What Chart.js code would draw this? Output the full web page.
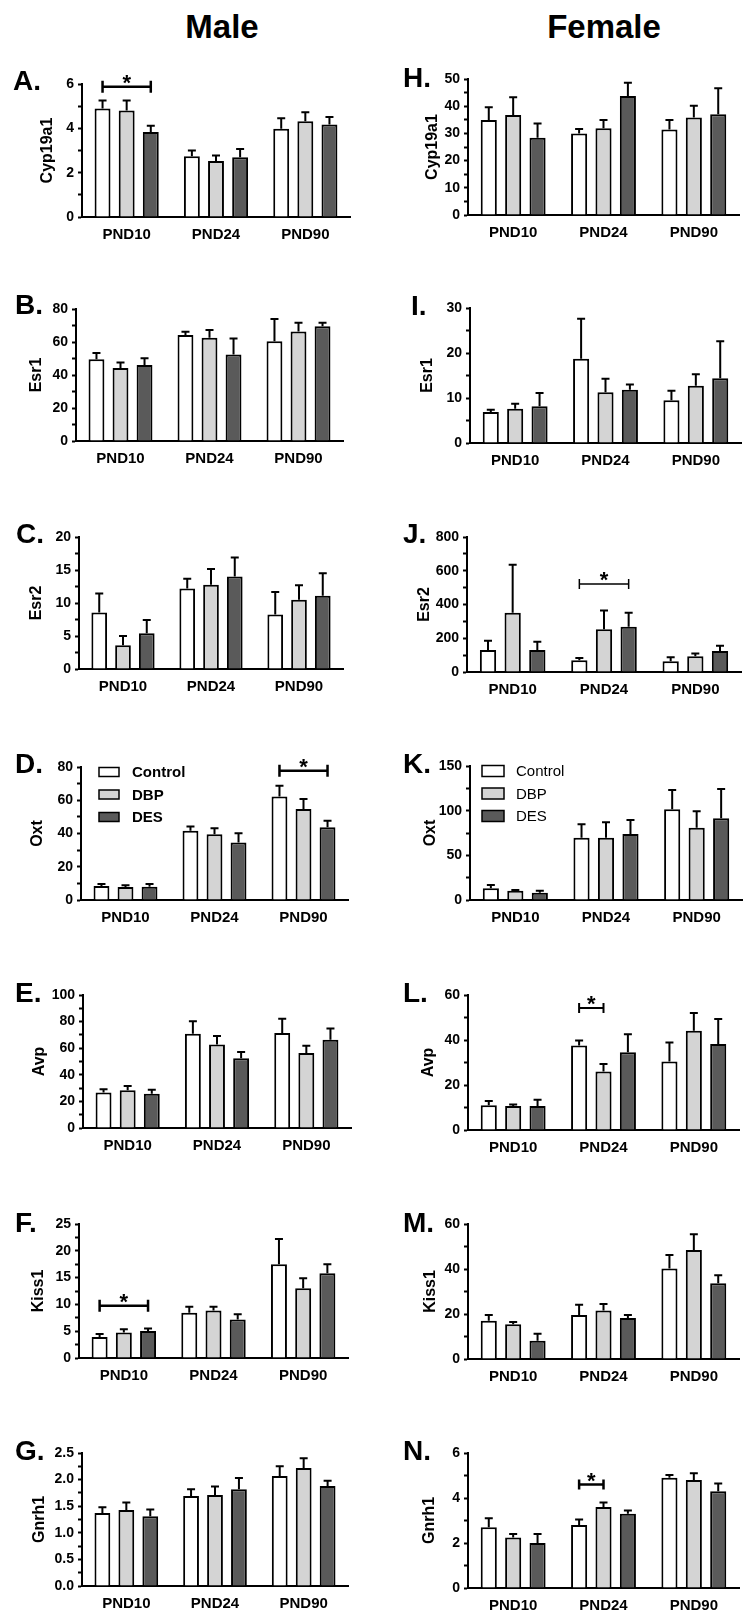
<!DOCTYPE html>
<html lang="en">
<head>
<meta charset="UTF-8">
<title>Hypothalamic gene expression, male and female</title>
<script src="https://cdn.jsdelivr.net/npm/chart.js"></script>
<style>
  body { margin: 0; background: #fff; }
  #page { position: relative; width: 753px; height: 1619px; overflow: hidden; font-family: 'Liberation Sans', Arial, sans-serif; }
  .sex { position: absolute; top: 10px; width: 200px; text-align: center; font-weight: bold; font-size: 33px; line-height: 1; }
  .panel { position: absolute; }
</style>
</head>
<body>
<div id="page">
  <div class="sex" style="left:122px">Male</div>
  <div class="sex" style="left:504px">Female</div>
</div>
<script>
const ages = ['PND10', 'PND24', 'PND90'];
const groups = ['Control', 'DBP', 'DES'];
const groupColors = ['#ffffff', '#d4d4d4', '#5a5a5a'];

// rows: Control, DBP, DES -- columns: PND10, PND24, PND90
const cyp19a1Male = [[4.90, 2.74, 3.98], [4.81, 2.53, 4.32], [3.83, 2.69, 4.17]];
const cyp19a1MaleSem = [[0.36, 0.26, 0.47], [0.45, 0.24, 0.40], [0.29, 0.38, 0.34]];
const esr1Male = [[49.6, 64.2, 60.5], [44.3, 62.6, 66.4], [46.0, 52.4, 69.6]];
const esr1MaleSem = [[3.8, 2.0, 13.4], [3.3, 4.6, 5.3], [4.2, 9.7, 2.1]];
const esr2Male = [[8.56, 12.2, 8.25], [3.6, 12.76, 10.5], [5.4, 14.0, 11.1]];
const esr2MaleSem = [[2.88, 1.47, 3.4], [1.4, 2.38, 2.2], [2.04, 2.9, 3.4]];
const oxtMale = [[8.4, 41.6, 62.3], [7.8, 39.6, 54.7], [8.0, 34.6, 43.8]];
const oxtMaleSem = [[1.2, 2.6, 6.4], [1.0, 3.6, 6.0], [1.6, 5.6, 3.8]];
const avpMale = [[26.6, 70.9, 71.4], [28.3, 62.7, 56.4], [25.8, 52.4, 66.4]];
const avpMaleSem = [[2.5, 9.3, 10.8], [3.3, 6.5, 5.5], [3.0, 4.7, 8.5]];
const kiss1Male = [[3.93, 8.42, 17.5], [4.74, 8.85, 13.0], [5.05, 7.17, 15.8]];
const kiss1MaleSem = [[0.56, 1.12, 4.7], [0.62, 0.69, 1.9], [0.44, 1.0, 1.7]];
const gnrh1Male = [[1.37, 1.69, 2.07], [1.43, 1.71, 2.22], [1.31, 1.82, 1.88]];
const gnrh1MaleSem = [[0.11, 0.13, 0.18], [0.14, 0.16, 0.18], [0.13, 0.21, 0.10]];

const cyp19a1Female = [[34.9, 30.0, 31.4], [36.8, 31.9, 35.8], [28.4, 43.75, 37.0]];
const cyp19a1FemaleSem = [[4.7, 1.6, 3.5], [6.5, 3.0, 4.4], [5.2, 4.9, 9.6]];
const esr1Female = [[6.9, 18.7, 9.5], [7.6, 11.3, 12.7], [8.15, 11.85, 14.4]];
const esr1FemaleSem = [[0.5, 8.9, 2.1], [1.1, 3.0, 2.6], [2.95, 1.15, 8.2]];
const esr2Female = [[131, 69, 63], [351, 254, 93], [131, 268, 125]];
const esr2FemaleSem = [[54, 14, 24], [284, 111, 16], [48, 83, 30]];
const oxtFemale = [[13.1, 69.8, 101.5], [10.4, 69.8, 81.0], [8.2, 73.9, 91.4]];
const oxtFemaleSem = [[3.7, 14.9, 21.6], [0.8, 17.1, 18.3], [2.2, 15.7, 32.9]];
const avpFemale = [[11.0, 37.6, 30.5], [10.7, 26.0, 44.1], [10.7, 34.6, 38.2]];
const avpFemaleSem = [[1.9, 2.2, 8.4], [0.6, 3.3, 7.9], [2.8, 8.0, 11.1]];
const kiss1Female = [[17.0, 19.6, 40.2], [15.4, 21.6, 48.5], [8.1, 18.2, 33.7]];
const kiss1FemaleSem = [[2.6, 4.5, 6.0], [1.0, 2.9, 7.0], [3.1, 1.4, 3.5]];
const gnrh1Female = [[2.7, 2.8, 4.9], [2.25, 3.6, 4.8], [2.0, 3.3, 4.3]];
const gnrh1FemaleSem = [[0.4, 0.25, 0.12], [0.15, 0.2, 0.3], [0.4, 0.15, 0.35]];

// layout of every panel (page pixels)
const panels = [
  { letter: 'A.', lx: 13, ldy: 6, col: 0, top: 84, zero: 217, axisX: 82, axisEnd: 350, titleX: 48, title: 'Cyp19a1', max: 6, major: 2, means: cyp19a1Male, sems: cyp19a1MaleSem,
    bracket: { age: 0, from: 0, to: 2, value: 5.88, lw: 2.5, cap: 6 } },
  { letter: 'B.', lx: 15, ldy: 5, col: 0, top: 309, zero: 441, axisX: 76, axisEnd: 343, titleX: 37, title: 'Esr1', max: 80, major: 20, means: esr1Male, sems: esr1MaleSem },
  { letter: 'C.', lx: 16, ldy: 6, col: 0, top: 537, zero: 669, axisX: 79, axisEnd: 343, titleX: 37, title: 'Esr2', max: 20, major: 5, means: esr2Male, sems: esr2MaleSem },
  { letter: 'D.', lx: 15, ldy: 6, col: 0, top: 767, zero: 900, axisX: 81, axisEnd: 348, titleX: 38, title: 'Oxt', max: 80, major: 20, means: oxtMale, sems: oxtMaleSem,
    bracket: { age: 2, from: 0, to: 2, value: 77.8, lw: 2.5, cap: 6 },
    legend: { dx: 18, dy: 5, w: 20, h: 9, textDx: 33, bold: true } },
  { letter: 'E.', lx: 15, ldy: 7, col: 0, top: 995, zero: 1128, axisX: 83, axisEnd: 351, titleX: 40, title: 'Avp', max: 100, major: 20, means: avpMale, sems: avpMaleSem },
  { letter: 'F.', lx: 15, ldy: 8, col: 0, top: 1224, zero: 1358, axisX: 79, axisEnd: 348, titleX: 39, title: 'Kiss1', max: 25, major: 5, means: kiss1Male, sems: kiss1MaleSem,
    bracket: { age: 0, from: 0, to: 2, value: 9.76, lw: 2.5, cap: 6 } },
  { letter: 'G.', lx: 15, ldy: 7, col: 0, top: 1453, zero: 1586, axisX: 82, axisEnd: 348, titleX: 40, title: 'Gnrh1', max: 2.5, major: 0.5, digits: 1, means: gnrh1Male, sems: gnrh1MaleSem },

  { letter: 'H.', lx: 403, ldy: 8, col: 1, top: 79, zero: 215, axisX: 468, axisEnd: 739, titleX: 433, title: 'Cyp19a1', max: 50, major: 10, means: cyp19a1Female, sems: cyp19a1FemaleSem },
  { letter: 'I.', lx: 411, ldy: 7, col: 1, top: 308, zero: 443, axisX: 470, axisEnd: 741, titleX: 428, title: 'Esr1', max: 30, major: 10, means: esr1Female, sems: esr1FemaleSem },
  { letter: 'J.', lx: 403, ldy: 6, col: 1, top: 537, zero: 672, axisX: 467, axisEnd: 741, titleX: 425, title: 'Esr2', max: 800, major: 200, means: esr2Female, sems: esr2FemaleSem,
    bracket: { age: 1, from: 0, to: 2, value: 521, lw: 1.5, cap: 5 } },
  { letter: 'K.', lx: 403, ldy: 7, col: 1, top: 766, zero: 900, axisX: 470, axisEnd: 742, titleX: 431, title: 'Oxt', max: 150, major: 50, means: oxtFemale, sems: oxtFemaleSem,
    legend: { dx: 12, dy: 5, w: 22, h: 11, textDx: 34, bold: false } },
  { letter: 'L.', lx: 403, ldy: 7, col: 1, top: 995, zero: 1130, axisX: 468, axisEnd: 739, titleX: 429, title: 'Avp', max: 60, major: 20, means: avpFemale, sems: avpFemaleSem,
    bracket: { age: 1, from: 0, to: 1, value: 54.2, lw: 2, cap: 5 } },
  { letter: 'M.', lx: 403, ldy: 8, col: 1, top: 1224, zero: 1359, axisX: 468, axisEnd: 739, titleX: 431, title: 'Kiss1', max: 60, major: 20, means: kiss1Female, sems: kiss1FemaleSem },
  { letter: 'N.', lx: 403, ldy: 7, col: 1, top: 1453, zero: 1588, axisX: 468, axisEnd: 739, titleX: 430, title: 'Gnrh1', max: 6, major: 2, means: gnrh1Female, sems: gnrh1FemaleSem,
    bracket: { age: 1, from: 0, to: 1, value: 4.6, lw: 2.5, cap: 5 } }
];

Chart.defaults.font.family = "'Liberation Sans', Arial, sans-serif";
Chart.defaults.color = '#000';

// error bars, significance brackets, panel letter and legend
const panelDecor = {
  id: 'panelDecor',
  afterDatasetsDraw(chart, args, opts) {
    const ctx = chart.ctx;
    const y = chart.scales.y;
    ctx.save();
    ctx.strokeStyle = '#000';
    ctx.lineWidth = 2;
    chart.data.datasets.forEach((ds, di) => {
      chart.getDatasetMeta(di).data.forEach((bar, i) => {
        const top = y.getPixelForValue(ds.data[i] + ds.sem[i]);
        ctx.beginPath();
        ctx.moveTo(bar.x, bar.y);
        ctx.lineTo(bar.x, top);
        ctx.moveTo(bar.x - 4, top);
        ctx.lineTo(bar.x + 4, top);
        ctx.stroke();
      });
    });

    const b = opts.bracket;
    if (b) {
      const x1 = chart.getDatasetMeta(b.from).data[b.age].x;
      const x2 = chart.getDatasetMeta(b.to).data[b.age].x;
      const yy = y.getPixelForValue(b.value);
      ctx.lineWidth = b.lw;
      ctx.beginPath();
      ctx.moveTo(x1, yy); ctx.lineTo(x2, yy);
      ctx.moveTo(x1, yy - b.cap); ctx.lineTo(x1, yy + b.cap);
      ctx.moveTo(x2, yy - b.cap); ctx.lineTo(x2, yy + b.cap);
      ctx.stroke();
      ctx.fillStyle = '#000';
      ctx.font = "bold 22px 'Liberation Sans', Arial, sans-serif";
      ctx.textAlign = 'center';
      ctx.textBaseline = 'alphabetic';
      ctx.fillText('*', (x1 + x2) / 2, yy + 3);
    }
    ctx.restore();
  },
  afterDraw(chart, args, opts) {
    const ctx = chart.ctx;
    const area = chart.chartArea;
    ctx.save();
    ctx.fillStyle = '#000';
    ctx.font = "bold 28px 'Liberation Sans', Arial, sans-serif";
    ctx.textAlign = 'left';
    ctx.textBaseline = 'alphabetic';
    ctx.fillText(opts.letter, opts.lx, area.top + opts.ldy);

    const lg = opts.legend;
    if (lg) {
      ctx.font = (lg.bold ? 'bold ' : '') + "15px 'Liberation Sans', Arial, sans-serif";
      ctx.textBaseline = 'middle';
      ctx.lineWidth = 1.5;
      ctx.strokeStyle = '#000';
      groups.forEach((g, i) => {
        const bx = area.left + lg.dx;
        const cy = area.top + lg.dy + i * 22.5;
        ctx.fillStyle = groupColors[i];
        ctx.fillRect(bx, cy - lg.h / 2, lg.w, lg.h);
        ctx.strokeRect(bx, cy - lg.h / 2, lg.w, lg.h);
        ctx.fillStyle = '#000';
        ctx.fillText(g, bx + lg.textDx, cy + 1);
      });
    }
    ctx.restore();
  }
};

const page = document.getElementById('page');
const padTop = 70;
const xAxisH = 45;

panels.forEach((p) => {
  const left = p.col === 0 ? 0 : 376;
  const width = p.col === 0 ? 376 : 377;
  const canvas = document.createElement('canvas');
  canvas.width = width;
  canvas.height = p.zero - p.top + padTop + xAxisH;
  canvas.className = 'panel';
  canvas.style.left = left + 'px';
  canvas.style.top = (p.top - padTop) + 'px';
  page.appendChild(canvas);

  const padLeft = p.titleX - left - 9.6;
  const yWidth = p.axisX - left - padLeft;

  new Chart(canvas, {
    type: 'bar',
    data: {
      labels: ages,
      datasets: groups.map((g, i) => ({
        label: g,
        data: p.means[i],
        sem: p.sems[i],
        backgroundColor: groupColors[i],
        borderColor: '#000',
        borderWidth: 2,
        categoryPercentage: 0.81,
        barPercentage: 0.66
      }))
    },
    options: {
      responsive: false,
      animation: false,
      events: [],
      layout: { padding: { top: padTop, left: padLeft, right: left + width - p.axisEnd, bottom: 0 } },
      plugins: {
        legend: { display: false },
        tooltip: { enabled: false },
        panelDecor: { letter: p.letter, lx: p.lx - left, ldy: p.ldy, bracket: p.bracket, legend: p.legend }
      },
      scales: {
        x: {
          z: 1,
          grid: { display: false, drawTicks: false },
          border: { color: '#000', width: 2 },
          ticks: { font: { size: 15, weight: 'bold' }, padding: 9, color: '#000' },
          afterFit: (s) => { s.height = xAxisH; }
        },
        y: {
          z: 1,
          min: 0,
          max: p.max,
          grid: { drawOnChartArea: false, tickLength: 4, tickWidth: 2, tickColor: '#000' },
          border: { color: '#000', width: 2 },
          ticks: {
            stepSize: p.major / 2,
            autoSkip: false,
            maxTicksLimit: 30,
            padding: 4,
            color: '#000',
            font: { size: 14, weight: 'bold' },
            callback: (v) => {
              const k = v / p.major;
              if (Math.abs(k - Math.round(k)) > 1e-6) return '';
              return p.digits ? v.toFixed(p.digits) : String(v);
            }
          },
          title: { display: true, text: p.title, padding: 0, color: '#000', font: { size: 16, weight: 'bold' } },
          afterFit: (s) => { s.width = yWidth; }
        }
      }
    },
    plugins: [panelDecor]
  });
});
</script>
</body>
</html>
